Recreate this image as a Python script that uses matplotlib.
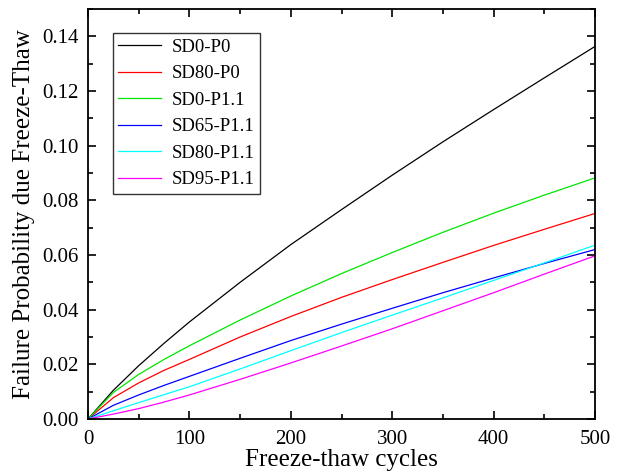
import matplotlib.pyplot as plt
from matplotlib.ticker import MultipleLocator

plt.rcParams['font.family'] = ['Liberation Serif', 'DejaVu Serif']

cycles = [0, 25, 50, 75, 100, 150, 200, 250, 300, 350, 400, 450, 500]
sd0_p0 = [0, 0.0105, 0.0195, 0.0277, 0.0355, 0.0500, 0.0638, 0.0766, 0.0892, 0.1014, 0.1132, 0.1248, 0.1363]
sd80_p0 = [0, 0.0078, 0.0132, 0.0178, 0.0218, 0.0300, 0.0375, 0.0445, 0.0510, 0.0573, 0.0635, 0.0694, 0.0752]
sd0_p11 = [0, 0.0097, 0.0163, 0.0218, 0.0268, 0.0362, 0.0450, 0.0532, 0.0609, 0.0683, 0.0753, 0.0819, 0.0882]
sd65_p11 = [0, 0.0050, 0.0088, 0.0123, 0.0156, 0.0222, 0.0287, 0.0347, 0.0405, 0.0462, 0.0516, 0.0569, 0.0620]
sd80_p11 = [0, 0.0030, 0.0060, 0.0089, 0.0118, 0.0183, 0.0250, 0.0316, 0.0380, 0.0443, 0.0507, 0.0571, 0.0636]
sd95_p11 = [0, 0.0018, 0.0038, 0.0062, 0.0088, 0.0145, 0.0205, 0.0267, 0.0330, 0.0396, 0.0462, 0.0530, 0.0597]

series = [
    ("SD0-P0", sd0_p0, "#000000"),
    ("SD80-P0", sd80_p0, "#FF0000"),
    ("SD0-P1.1", sd0_p11, "#00E600"),
    ("SD65-P1.1", sd65_p11, "#0000FF"),
    ("SD80-P1.1", sd80_p11, "#00FFFF"),
    ("SD95-P1.1", sd95_p11, "#FF00FF"),
]

fig = plt.figure(figsize=(6.24, 4.72), dpi=100)
ax = fig.add_axes([88 / 624, 53 / 472, 507 / 624, 410 / 472])

for name, vals, col in series:
    ax.plot(cycles, vals, color=col, lw=0.9, label=name)

ax.set_xlim(0, 500)
ax.set_ylim(0, 0.15)
ax.xaxis.set_major_locator(MultipleLocator(100))
ax.xaxis.set_minor_locator(MultipleLocator(50))
ax.yaxis.set_minor_locator(MultipleLocator(0.01))
ax.set_yticks([0, 0.02, 0.04, 0.06, 0.08, 0.10, 0.12, 0.14])
ax.set_yticklabels(["0.00", "0.02", "0.04", "0.06", "0.08", "0.10", "0.12", "0.14"])

ax.tick_params(which='both', direction='in', top=True, right=True, labelsize=15, width=1.2)
ax.tick_params(which='major', length=6)
ax.tick_params(which='minor', length=3.5)
ax.tick_params(axis='x', pad=8)
ax.tick_params(axis='y', pad=7)
for sp in ax.spines.values():
    sp.set_linewidth(1.3)

ax.set_xlabel("Freeze-thaw cycles", fontsize=18, labelpad=0)
ax.set_ylabel("Failure Probability due Freeze-Thaw", fontsize=18, labelpad=5)

leg = ax.legend(loc='upper left', bbox_to_anchor=(0.049, 0.9415), borderaxespad=0,
                fontsize=13.5, frameon=True, fancybox=False, edgecolor='black',
                handlelength=2.25, handletextpad=0.6, labelspacing=0.5, borderpad=0.3)
leg.get_frame().set_linewidth(1.0)

fig.savefig("out.png", dpi=100)
